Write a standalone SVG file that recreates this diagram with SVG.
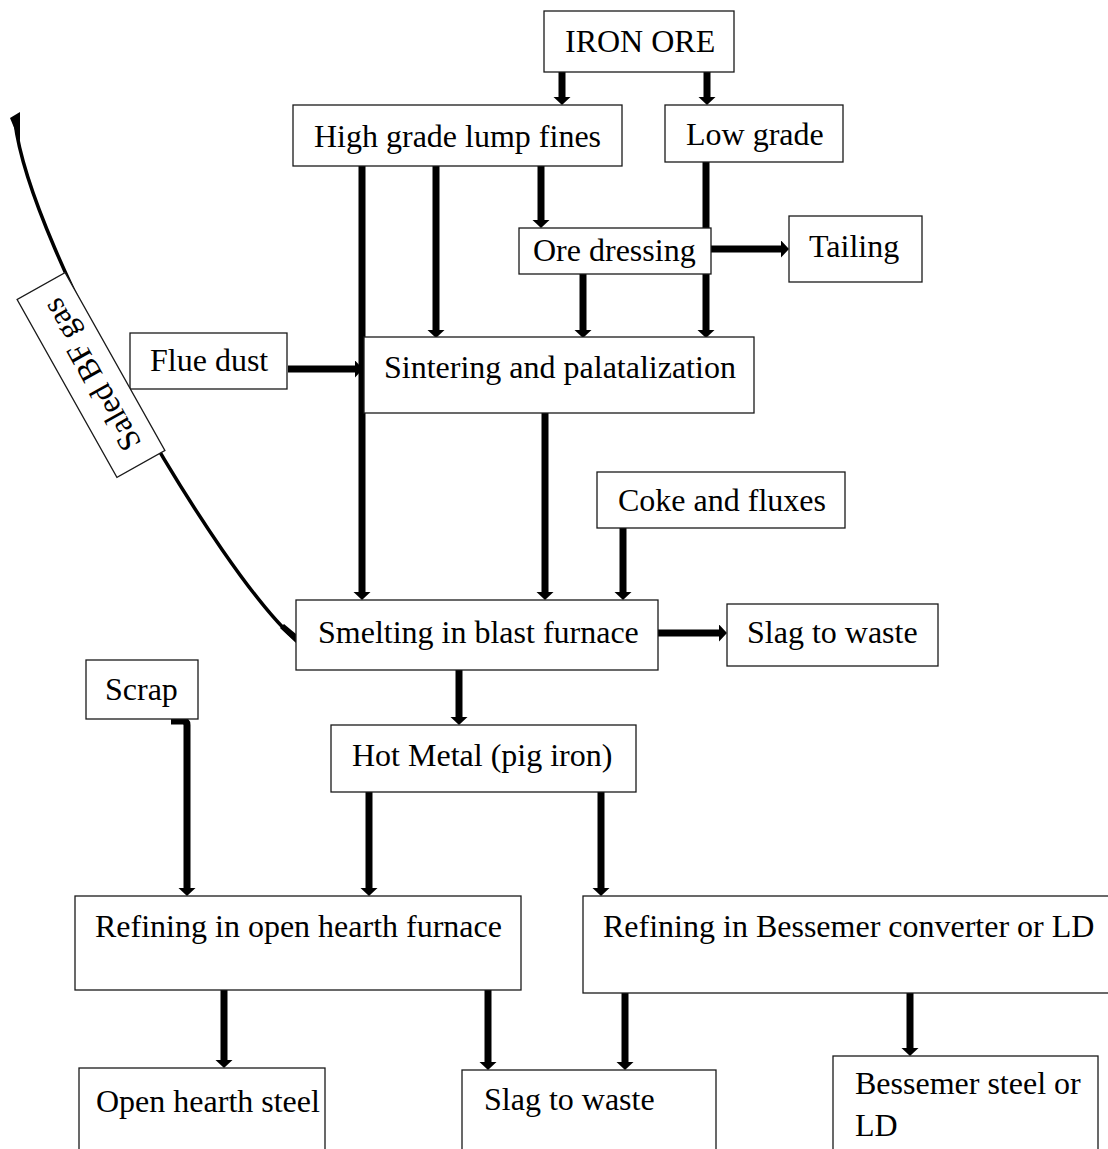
<svg xmlns="http://www.w3.org/2000/svg" width="1108" height="1149" viewBox="0 0 1108 1149">
<style>
.box{fill:#fff;stroke:#1a1a1a;stroke-width:1.3}
.t{font-family:"Liberation Serif","Times New Roman",serif;font-size:32px;fill:#000}
.c{stroke:#000;stroke-width:7;fill:none;marker-end:url(#ah)}
</style>
<defs>
<marker id="ah" markerUnits="userSpaceOnUse" markerWidth="9" markerHeight="18" refX="0" refY="8.5" orient="auto">
<path d="M0,0 L8,8.5 L0,17 z" fill="#000"/>
</marker>
</defs>
<rect width="1108" height="1149" fill="#fff"/>

<g id="connectors">
<line class="c" x1="562" y1="72" x2="562" y2="97"/>
<line class="c" x1="707" y1="72" x2="707" y2="97"/>
<line class="c" x1="362" y1="166" x2="362" y2="592"/>
<line class="c" x1="436" y1="166" x2="436" y2="330"/>
<line class="c" x1="541" y1="166" x2="541" y2="220"/>
<line class="c" x1="706" y1="162" x2="706" y2="330"/>
<line class="c" x1="583" y1="274" x2="583" y2="330"/>
<line class="c" x1="711" y1="249" x2="781" y2="249"/>
<line class="c" x1="288" y1="369" x2="355" y2="369"/>
<line class="c" x1="545" y1="413" x2="545" y2="592"/>
<line class="c" x1="623" y1="528" x2="623" y2="592"/>
<line class="c" x1="658" y1="633" x2="719" y2="633"/>
<line class="c" x1="459" y1="670" x2="459" y2="717"/>
<path class="c" d="M171,721 H183 Q187,721 187,725 V888"/>
<line class="c" x1="369" y1="792" x2="369" y2="888"/>
<line class="c" x1="601" y1="792" x2="601" y2="888"/>
<line class="c" x1="224" y1="990" x2="224" y2="1060"/>
<line class="c" x1="488" y1="990" x2="488" y2="1062"/>
<line class="c" x1="625" y1="993" x2="625" y2="1062"/>
<line class="c" x1="910" y1="993" x2="910" y2="1048"/>
<path d="M15,122 C30,250 220,575 296,640" stroke="#000" stroke-width="3.5" fill="none"/>
<path d="M10,118 L20,112 L20,142 Z" fill="#000"/>
<path d="M296,643 L280,628 L284,624 L296,634 Z" fill="#000"/>
</g>

<g id="iron-ore"><rect class="box" x="544" y="11" width="190" height="61"/><text class="t" x="565" y="52">IRON ORE</text></g>
<g id="high-grade"><rect class="box" x="293" y="105" width="329" height="61"/><text class="t" x="314" y="147">High grade lump fines</text></g>
<g id="low-grade"><rect class="box" x="665" y="105" width="178" height="57"/><text class="t" x="686" y="145">Low grade</text></g>
<g id="ore-dressing"><rect class="box" x="519" y="228" width="192" height="46"/><text class="t" x="533" y="261">Ore dressing</text></g>
<g id="tailing"><rect class="box" x="789" y="216" width="133" height="66"/><text class="t" x="809" y="257">Tailing</text></g>
<g id="flue-dust"><rect class="box" x="130" y="333" width="157" height="56"/><text class="t" x="150" y="371">Flue dust</text></g>
<g id="sintering"><rect class="box" x="364" y="337" width="390" height="76"/><text class="t" x="384" y="378">Sintering and palatalization</text></g>
<g id="coke"><rect class="box" x="597" y="472" width="248" height="56"/><text class="t" x="618" y="511">Coke and fluxes</text></g>
<g id="smelting"><rect class="box" x="296" y="600" width="362" height="70"/><text class="t" x="318" y="643">Smelting in blast furnace</text></g>
<g id="slag1"><rect class="box" x="727" y="604" width="211" height="62"/><text class="t" x="747" y="643">Slag to waste</text></g>
<g id="scrap"><rect class="box" x="86" y="660" width="112" height="59"/><text class="t" x="105" y="700">Scrap</text></g>
<g id="hot-metal"><rect class="box" x="331" y="725" width="305" height="67"/><text class="t" x="352" y="766">Hot Metal (pig iron)</text></g>
<g id="open-hearth"><rect class="box" x="75" y="896" width="446" height="94"/><text class="t" x="95" y="937">Refining in open hearth furnace</text></g>
<g id="bessemer"><rect class="box" x="583" y="896" width="530" height="97"/><text class="t" x="603" y="937">Refining in Bessemer converter or LD</text></g>
<g id="oh-steel"><rect class="box" x="79" y="1068" width="246" height="90"/><text class="t" x="96" y="1112">Open hearth steel</text></g>
<g id="slag2"><rect class="box" x="462" y="1070" width="254" height="90"/><text class="t" x="484" y="1110">Slag to waste</text></g>
<g id="bessemer-steel"><rect class="box" x="833" y="1056" width="265" height="100"/><text class="t" x="855" y="1094">Bessemer steel or</text><text class="t" x="855" y="1136">LD</text></g>
<g id="bf-gas" transform="translate(91,375) rotate(240.7)"><rect class="box" x="-102" y="-27.5" width="204" height="55"/><text class="t" x="0" y="11" text-anchor="middle">Saled BF gas</text></g>
</svg>
